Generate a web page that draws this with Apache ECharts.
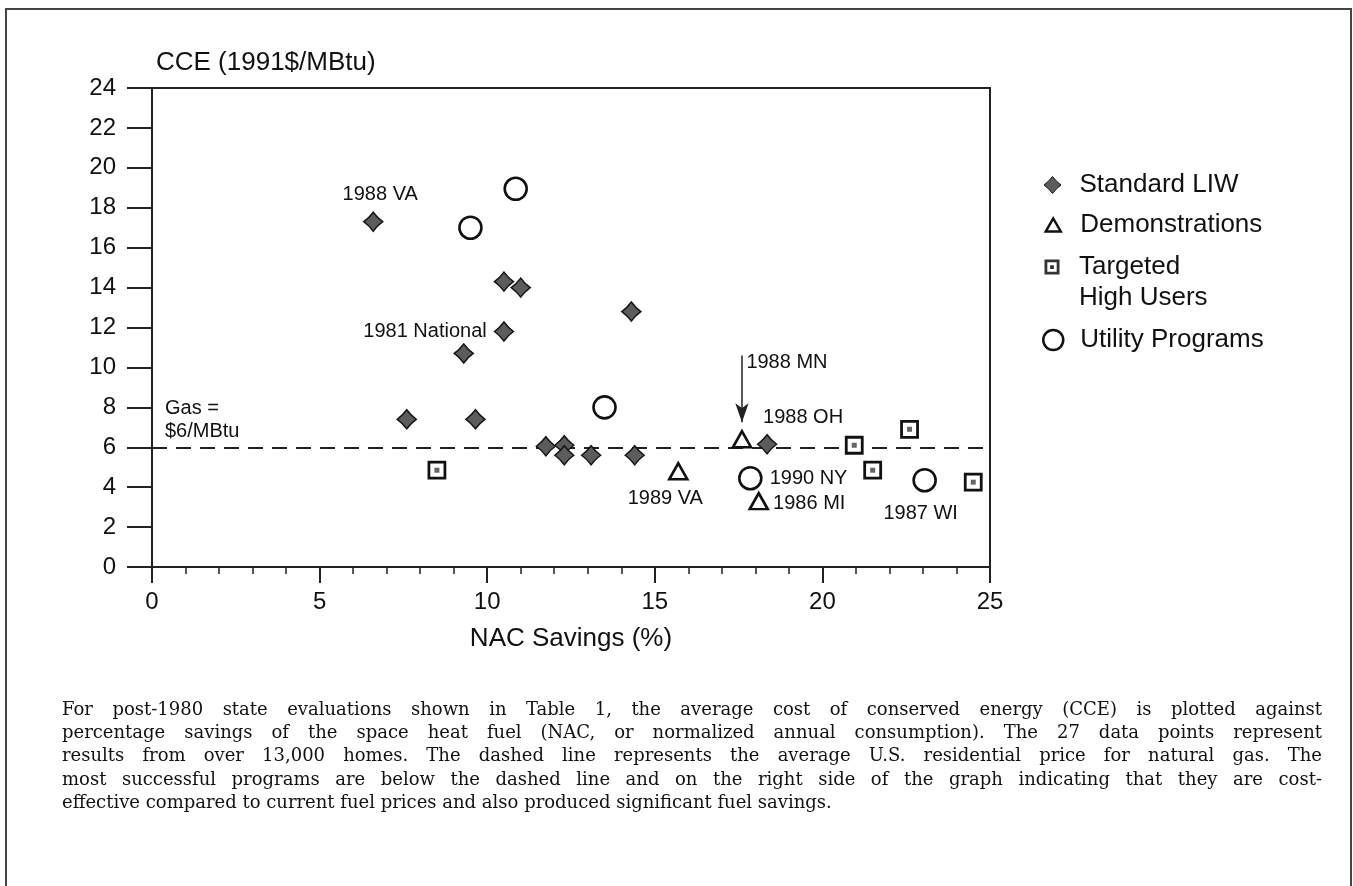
<!DOCTYPE html>
<html>
<head>
<meta charset="utf-8">
<script src="https://cdn.jsdelivr.net/npm/echarts@6/dist/echarts.min.js"></script>
<style>html,body{margin:0;padding:0;background:#fff;}#c{width:1353px;height:886px;}</style>
</head>
<body>
<div id="c"></div>
<script>
// ---------------- data ----------------
const xTicks = [0, 5, 10, 15, 20, 25];
const yTicks = [0, 2, 4, 6, 8, 10, 12, 14, 16, 18, 20, 22, 24];
const xAxisTitle = 'NAC Savings (%)';
const yAxisTitle = 'CCE (1991$/MBtu)';

const standardLIW = [[6.6,17.3],[10.5,14.3],[11.0,14.0],[14.3,12.8],[10.5,11.8],[9.3,10.7],[7.6,7.4],[9.65,7.4],[11.75,6.05],[12.3,6.1],[12.3,5.6],[13.1,5.6],[14.4,5.6],[18.35,6.15]];
const standardLabels = ['1988 VA','','','','1981 National','','','','','','','','','1988 OH'];

const demonstrations = [[17.6,6.4],[15.7,4.8],[18.1,3.3]];
const demonstrationLabels = ['1988 MN','1989 VA','1986 MI'];

const targetedHighUsers = [[8.5,4.85],[20.95,6.1],[22.6,6.9],[21.5,4.85],[24.5,4.25]];

const utilityPrograms = [[9.5,17.0],[10.85,18.95],[13.5,8.0],[17.85,4.45],[23.05,4.35]];
const utilityLabels = ['','','','1990 NY','1987 WI'];

const gasPrice = 6;
const gasLabel = 'Gas =\n$6/MBtu';
const mnArrow = [[17.6,10.6],[17.6,7.25]];

const seriesNames = ['Standard LIW','Demonstrations','Targeted High Users','Utility Programs'];

const captionLines = [
 'For post-1980 state evaluations shown in Table 1, the average cost of conserved energy (CCE) is plotted against',
 'percentage savings of the space heat fuel (NAC, or normalized annual consumption). The 27 data points represent',
 'results from over 13,000 homes. The dashed line represents the average U.S. residential price for natural gas. The',
 'most successful programs are below the dashed line and on the right side of the graph indicating that they are cost-',
 'effective compared to current fuel prices and also produced significant fuel savings.'
];

// ---------------- styles ----------------
const SANS = '"Liberation Sans", Arial, Helvetica, sans-serif';
const INK = '#111';
const diamondPath = 'path://M10,0 Q14.2,5.8 20,10 Q14.2,14.2 10,20 Q5.8,14.2 0,10 Q5.8,5.8 10,0Z';
const ringDotPath = 'path://M0,0H16V16H0Z M3,3V13H13V3Z M6,6H10V10H6Z';

const labelPlacement = {
  '1988 VA': {position:'top', offset:[7,-2]},
  '1981 National': {position:'left', distance:7},
  '1988 OH': {position:'top', offset:[36,-2]},
  '1988 MN': {position:'top', offset:[45,-53]},
  '1989 VA': {position:'bottom', offset:[-13,3]},
  '1986 MI': {position:'right', distance:4, offset:[0,2]},
  '1990 NY': {position:'right', distance:7},
  '1987 WI': {position:'bottom', offset:[-4,6]}
};

function withLabels(points, labels) {
  return points.map(function (p, i) {
    const t = labels ? labels[i] : '';
    if (!t) return {value: p};
    const pl = labelPlacement[t] || {position:'top'};
    return {value: p, label: Object.assign({show:true, formatter:t, fontSize:20, color:INK, fontFamily:SANS}, pl)};
  });
}

// ---------------- caption (justified) ----------------
function captionGraphics() {
  const font = '18px "DejaVu Serif"';
  const ctx = document.createElement('canvas').getContext('2d');
  ctx.font = font;
  const left = 62, right = 1322, y0 = 710, dy = 23.4;
  const out = [];
  captionLines.forEach(function (line, li) {
    const words = line.split(' ');
    const widths = words.map(function (w) { return ctx.measureText(w).width; });
    const total = widths.reduce(function (a, b) { return a + b; }, 0);
    const last = li === captionLines.length - 1;
    const gap = last ? ctx.measureText(' ').width : (right - left - total) / (words.length - 1);
    let x = left;
    words.forEach(function (w, wi) {
      out.push({type:'text', x:x, y:y0 + li * dy, silent:true,
        style:{text:w, font:font, fill:INK, verticalAlign:'middle', align:'left'}});
      x += widths[wi] + gap;
    });
  });
  return out;
}

const legendBase = {orient:'vertical', padding:0, itemGap:0, selectedMode:false};
function legendText(extra) {
  return Object.assign({fontSize:26, color:INK, fontFamily:SANS, lineHeight:30}, extra);
}

const chart = echarts.init(document.getElementById('c'), null, {renderer:'canvas'});
const option = {
  animation: false,
  backgroundColor: '#fff',
  textStyle: {fontFamily: SANS},
  grid: {left:152, right:363, top:88, bottom:319, show:true, borderColor:'#222', borderWidth:2, backgroundColor:'transparent'},
  xAxis: {
    type:'value', min:xTicks[0], max:xTicks[xTicks.length-1], interval:xTicks[1]-xTicks[0],
    name:xAxisTitle, nameLocation:'middle', nameGap:59,
    nameTextStyle:{fontSize:26, color:INK, fontFamily:SANS},
    axisLine:{show:true, onZero:false, lineStyle:{color:'#222', width:2}},
    axisTick:{show:true, inside:false, length:16, lineStyle:{color:'#222', width:2}},
    minorTick:{show:true, splitNumber:5, length:7, lineStyle:{color:'#222', width:1.5}},
    axisLabel:{fontSize:24, color:INK, margin:23, fontFamily:SANS},
    splitLine:{show:false}, minorSplitLine:{show:false}
  },
  yAxis: {
    type:'value', min:yTicks[0], max:yTicks[yTicks.length-1], interval:yTicks[1]-yTicks[0],
    name:yAxisTitle, nameLocation:'end', nameGap:12,
    nameTextStyle:{fontSize:26, color:INK, fontFamily:SANS, align:'left', verticalAlign:'bottom', padding:[0,0,0,4]},
    axisLine:{show:true, onZero:false, lineStyle:{color:'#222', width:2}},
    axisTick:{show:true, inside:false, length:25, lineStyle:{color:'#222', width:2}},
    axisLabel:{fontSize:24, color:INK, margin:36, fontFamily:SANS},
    splitLine:{show:false}
  },
  legend: [
    Object.assign({}, legendBase, {data:[{name:seriesNames[0], icon:diamondPath}], left:1043.5, top:170, itemWidth:17, itemHeight:17,
      itemStyle:{borderWidth:1}, textStyle:legendText({padding:[0,0,0,13.5]})}),
    Object.assign({}, legendBase, {data:[{name:seriesNames[1], icon:'triangle'}], left:1044.5, top:210, itemWidth:15, itemHeight:13,
      itemStyle:{borderWidth:2.5}, textStyle:legendText({padding:[0,0,0,14.5]})}),
    Object.assign({}, legendBase, {data:[{name:seriesNames[2], icon:ringDotPath, itemStyle:{color:'#333', borderWidth:0}}], left:1044.5, top:220.5, itemWidth:15, itemHeight:15,
      formatter:function(){ return '\nTargeted\nHigh Users'; }, textStyle:legendText({lineHeight:31, padding:[0,0,0,14.5]})}),
    Object.assign({}, legendBase, {data:[{name:seriesNames[3], icon:'circle'}], left:1042, top:325, itemWidth:20, itemHeight:20,
      itemStyle:{borderWidth:2.5}, textStyle:legendText({padding:[0,0,0,12]})})
  ],
  series: [
    {
      name:'Reference lines', type:'scatter', data:[], silent:true,
      markLine:{
        silent:true, z:1, symbol:['none','none'], animation:false,
        data:[
          {yAxis:gasPrice, lineStyle:{type:[15,9], color:'#222', width:2},
           label:{show:true, position:'insideStartTop', formatter:gasLabel, fontSize:20, lineHeight:23, color:INK, fontFamily:SANS, distance:[13,4]}},
          [{coord:mnArrow[0], symbol:'none', lineStyle:{type:'solid', color:'#222', width:1.5}, label:{show:false}},
           {coord:mnArrow[1], symbol:'arrow', symbolSize:[10,19]}]
        ]
      }
    },
    {
      name:seriesNames[0], type:'scatter', symbol:diamondPath, symbolSize:19, z:3,
      itemStyle:{color:'#5c5c5c', borderColor:'#151515', borderWidth:1.5, opacity:1},
      data:withLabels(standardLIW, standardLabels)
    },
    {
      name:seriesNames[1], type:'scatter', symbol:'triangle', symbolSize:[18,16], z:3,
      itemStyle:{color:'#fff', borderColor:'#111', borderWidth:2.6, opacity:1},
      data:withLabels(demonstrations, demonstrationLabels)
    },
    {
      name:seriesNames[2], type:'scatter', symbol:'rect', symbolSize:16, z:3,
      itemStyle:{color:'#fff', borderColor:'#111', borderWidth:2.8, opacity:1},
      data:withLabels(targetedHighUsers, null)
    },
    {
      name:'Targeted High Users (centre)', type:'scatter', symbol:'rect', symbolSize:5, z:4, silent:true,
      itemStyle:{color:'#666', opacity:1},
      data:targetedHighUsers
    },
    {
      name:seriesNames[3], type:'scatter', symbol:'circle', symbolSize:22, z:3,
      itemStyle:{color:'#fff', borderColor:'#111', borderWidth:2.6, opacity:1},
      data:withLabels(utilityPrograms, utilityLabels)
    }
  ],
  graphic: [
    {type:'rect', silent:true, z:-1, shape:{x:6, y:9, width:1345, height:900}, style:{fill:'none', stroke:'#444', lineWidth:2}}
  ].concat(captionGraphics())
};
chart.setOption(option);
</script>
</body>
</html>
